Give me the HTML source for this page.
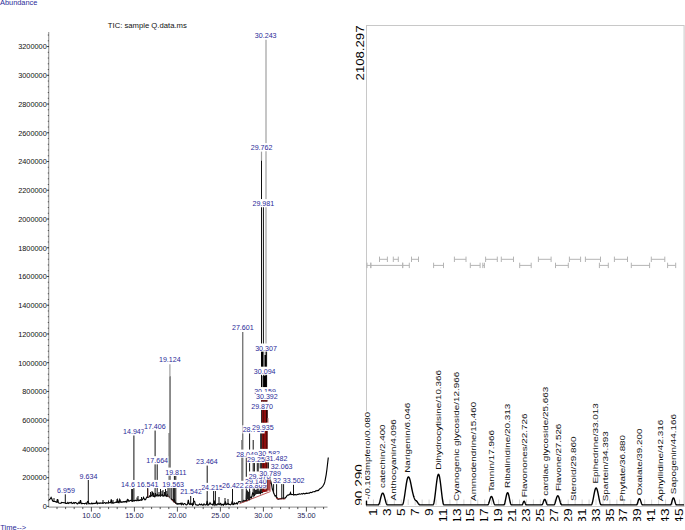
<!DOCTYPE html>
<html><head><meta charset="utf-8"><style>
html,body{margin:0;padding:0;background:#fff;}
svg{display:block;font-family:"Liberation Sans",sans-serif;}
</style></head><body>
<svg width="685" height="530" viewBox="0 0 685 530">
<rect width="685" height="530" fill="#fff"/>
<text x="0" y="5.0" font-size="7.4" fill="#2a2a98">Abundance</text>
<text x="107.8" y="28.0" font-size="7.7" fill="#111">TIC: sample Q.data.ms</text>
<text x="0.3" y="529.8" font-size="7.5" fill="#2a2a98">Time--&gt;</text>
<line x1="48.75" y1="32" x2="48.75" y2="507.3" stroke="#8a8a8a" stroke-width="1"/>
<text x="46.8" y="509.20" font-size="7.35" fill="#111" text-anchor="end">0</text>
<text x="46.8" y="480.46" font-size="7.35" fill="#111" text-anchor="end">200000</text>
<text x="46.8" y="451.72" font-size="7.35" fill="#111" text-anchor="end">400000</text>
<text x="46.8" y="422.98" font-size="7.35" fill="#111" text-anchor="end">600000</text>
<text x="46.8" y="394.24" font-size="7.35" fill="#111" text-anchor="end">800000</text>
<text x="46.8" y="365.50" font-size="7.35" fill="#111" text-anchor="end">1000000</text>
<text x="46.8" y="336.76" font-size="7.35" fill="#111" text-anchor="end">1200000</text>
<text x="46.8" y="308.02" font-size="7.35" fill="#111" text-anchor="end">1400000</text>
<text x="46.8" y="279.28" font-size="7.35" fill="#111" text-anchor="end">1600000</text>
<text x="46.8" y="250.54" font-size="7.35" fill="#111" text-anchor="end">1800000</text>
<text x="46.8" y="221.80" font-size="7.35" fill="#111" text-anchor="end">2000000</text>
<text x="46.8" y="193.06" font-size="7.35" fill="#111" text-anchor="end">2200000</text>
<text x="46.8" y="164.32" font-size="7.35" fill="#111" text-anchor="end">2400000</text>
<text x="46.8" y="135.58" font-size="7.35" fill="#111" text-anchor="end">2600000</text>
<text x="46.8" y="106.84" font-size="7.35" fill="#111" text-anchor="end">2800000</text>
<text x="46.8" y="78.10" font-size="7.35" fill="#111" text-anchor="end">3000000</text>
<text x="46.8" y="49.36" font-size="7.35" fill="#111" text-anchor="end">3200000</text>
<path d="M46.8 506.40h2 M46.8 477.66h2 M46.8 448.92h2 M46.8 420.18h2 M46.8 391.44h2 M46.8 362.70h2 M46.8 333.96h2 M46.8 305.22h2 M46.8 276.48h2 M46.8 247.74h2 M46.8 219.00h2 M46.8 190.26h2 M46.8 161.52h2 M46.8 132.78h2 M46.8 104.04h2 M46.8 75.30h2 M46.8 46.56h2 M47.8 506.40h1 M47.8 500.65h1 M47.8 494.90h1 M47.8 489.16h1 M47.8 483.41h1 M47.8 477.66h1 M47.8 471.91h1 M47.8 466.16h1 M47.8 460.42h1 M47.8 454.67h1 M47.8 448.92h1 M47.8 443.17h1 M47.8 437.42h1 M47.8 431.68h1 M47.8 425.93h1 M47.8 420.18h1 M47.8 414.43h1 M47.8 408.68h1 M47.8 402.94h1 M47.8 397.19h1 M47.8 391.44h1 M47.8 385.69h1 M47.8 379.94h1 M47.8 374.20h1 M47.8 368.45h1 M47.8 362.70h1 M47.8 356.95h1 M47.8 351.20h1 M47.8 345.46h1 M47.8 339.71h1 M47.8 333.96h1 M47.8 328.21h1 M47.8 322.46h1 M47.8 316.72h1 M47.8 310.97h1 M47.8 305.22h1 M47.8 299.47h1 M47.8 293.72h1 M47.8 287.98h1 M47.8 282.23h1 M47.8 276.48h1 M47.8 270.73h1 M47.8 264.98h1 M47.8 259.24h1 M47.8 253.49h1 M47.8 247.74h1 M47.8 241.99h1 M47.8 236.24h1 M47.8 230.50h1 M47.8 224.75h1 M47.8 219.00h1 M47.8 213.25h1 M47.8 207.50h1 M47.8 201.76h1 M47.8 196.01h1 M47.8 190.26h1 M47.8 184.51h1 M47.8 178.76h1 M47.8 173.02h1 M47.8 167.27h1 M47.8 161.52h1 M47.8 155.77h1 M47.8 150.02h1 M47.8 144.28h1 M47.8 138.53h1 M47.8 132.78h1 M47.8 127.03h1 M47.8 121.28h1 M47.8 115.54h1 M47.8 109.79h1 M47.8 104.04h1 M47.8 98.29h1 M47.8 92.54h1 M47.8 86.80h1 M47.8 81.05h1 M47.8 75.30h1 M47.8 69.55h1 M47.8 63.80h1 M47.8 58.06h1 M47.8 52.31h1 M47.8 46.56h1 M47.8 40.81h1 M47.8 35.06h1" stroke="#222" stroke-width="0.8" fill="none"/>
<line x1="48.75" y1="507.1" x2="327.5" y2="507.1" stroke="#8a8a8a" stroke-width="1"/>
<text x="91.40" y="518.4" font-size="7.3" fill="#26265a" text-anchor="middle">10.00</text>
<text x="134.40" y="518.4" font-size="7.3" fill="#26265a" text-anchor="middle">15.00</text>
<text x="177.40" y="518.4" font-size="7.3" fill="#26265a" text-anchor="middle">20.00</text>
<text x="220.40" y="518.4" font-size="7.3" fill="#26265a" text-anchor="middle">25.00</text>
<text x="263.40" y="518.4" font-size="7.3" fill="#26265a" text-anchor="middle">30.00</text>
<text x="306.40" y="518.4" font-size="7.3" fill="#26265a" text-anchor="middle">35.00</text>
<path d="M57.00 507.1v2 M65.60 507.1v2 M74.20 507.1v2 M82.80 507.1v2 M91.40 507.1v4.5 M100.00 507.1v2 M108.60 507.1v2 M117.20 507.1v2 M125.80 507.1v2 M134.40 507.1v4.5 M143.00 507.1v2 M151.60 507.1v2 M160.20 507.1v2 M168.80 507.1v2 M177.40 507.1v4.5 M186.00 507.1v2 M194.60 507.1v2 M203.20 507.1v2 M211.80 507.1v2 M220.40 507.1v4.5 M229.00 507.1v2 M237.60 507.1v2 M246.20 507.1v2 M254.80 507.1v2 M263.40 507.1v4.5 M272.00 507.1v2 M280.60 507.1v2 M289.20 507.1v2 M297.80 507.1v2 M306.40 507.1v4.5 M315.00 507.1v2 M323.60 507.1v2" stroke="#222" stroke-width="0.8" fill="none"/>
<polyline points="49.0,500.0 49.7,499.3 50.4,498.7 51.1,497.4 51.8,498.7 52.5,500.6 53.2,501.3 53.9,501.3 54.6,501.5 55.3,501.6 56.0,502.0 56.7,502.3 57.4,499.2 58.1,502.3 58.8,503.0 59.5,503.2 60.2,503.2 60.9,503.3 61.6,502.3 62.3,502.5 63.0,502.7 63.7,502.6 64.4,502.7 65.1,502.9 65.8,503.3 66.5,503.3 67.2,503.4 67.9,502.4 68.6,503.4 69.3,502.9 70.0,502.5 70.7,502.9 71.4,502.3 72.1,503.5 72.8,503.3 73.5,502.6 74.2,503.3 74.9,502.5 75.6,502.5 76.3,502.9 77.0,503.7 77.7,503.8 78.4,502.7 79.1,502.7 79.8,503.2 80.5,500.2 81.2,503.1 81.9,503.8 82.6,503.3 83.3,503.5 84.0,503.5 84.7,503.9 85.4,503.3 86.1,503.1 86.8,504.0 87.5,501.7 88.2,501.3 88.9,503.6 89.6,503.6 90.3,503.7 91.0,503.8 91.7,503.0 92.4,503.8 93.1,503.3 93.8,503.7 94.5,503.4 95.2,503.4 95.9,503.3 96.6,501.7 97.3,503.8 98.0,503.1 98.7,503.1 99.4,503.3 100.1,502.9 100.8,503.1 101.5,503.2 102.2,502.8 102.9,503.4 103.6,503.1 104.3,502.6 105.0,502.7 105.7,503.4 106.4,502.7 107.1,503.1 107.8,502.7 108.5,502.6 109.2,502.6 109.9,502.7 110.6,502.7 111.3,499.4 112.0,503.1 112.7,502.5 113.4,503.1 114.1,502.8 114.8,502.7 115.5,502.2 116.2,502.1 116.9,502.4 117.6,499.9 118.3,502.5 119.0,502.7 119.7,499.8 120.4,501.7 121.1,502.3 121.8,501.9 122.5,502.1 123.2,501.6 123.9,501.8 124.6,501.6 125.3,501.8 126.0,501.3 126.7,502.1 127.4,499.6 128.1,500.2 128.8,501.0 129.5,501.1 130.2,500.3 130.9,500.5 131.6,500.3 132.3,501.2 133.0,500.7 133.7,500.5 134.4,500.8 135.1,500.4 135.8,500.4 136.5,500.6 137.2,500.3 137.9,500.0 138.6,500.5 139.3,500.2 140.0,500.4 140.7,499.8 141.4,500.2 142.1,500.0 142.8,499.0 143.5,497.4 144.2,499.0 144.9,499.8 145.6,499.5 146.3,498.0 147.0,497.0 147.7,497.3 148.4,497.2 149.1,497.0 149.8,495.8 150.5,495.5 151.2,495.5 151.9,495.5 152.6,492.0 153.3,495.4 154.0,496.3 154.7,496.8 155.4,493.2 156.1,495.9 156.8,495.1 157.5,494.6 158.2,495.8 158.9,495.2 159.6,495.1 160.3,496.0 161.0,495.2 161.7,495.1 162.4,494.6 163.1,496.1 163.8,495.7 164.5,495.6 165.2,495.7 165.9,495.4 166.6,496.2 167.3,494.9 168.0,496.4 168.7,496.3 169.4,496.5 170.1,497.3 170.8,498.2 171.5,499.5 172.2,499.5 172.9,500.3 173.6,501.3 174.3,498.8 175.0,502.1 175.7,502.7 176.4,503.7 177.1,504.2 177.8,503.5 178.5,504.0 179.2,503.6 179.9,503.9 180.6,503.4 181.3,504.5 182.0,503.2 182.7,504.2 183.4,504.7 184.1,503.5 184.8,503.5 185.5,504.4 186.2,504.8 186.9,504.7 187.6,504.0 188.3,499.9 189.0,503.8 189.7,504.4 190.4,503.4 191.1,504.2 191.8,503.8 192.5,505.2 193.2,502.6 193.9,501.1 194.6,501.4 195.3,504.3 196.0,505.0 196.7,504.9 197.4,505.1 198.1,505.1 198.8,505.0 199.5,504.0 200.2,504.4 200.9,505.0 201.6,504.1 202.3,504.9 203.0,505.4 203.7,504.0 204.4,504.0 205.1,505.0 205.8,504.7 206.5,504.5 207.2,500.9 207.9,505.1 208.6,505.0 209.3,504.2 210.0,502.7 210.7,504.1 211.4,504.3 212.1,504.4 212.8,505.0 213.5,503.3 214.2,500.5 214.9,504.9 215.6,503.9 216.3,504.9 217.0,504.9 217.7,503.8 218.4,503.9 219.1,504.5 219.8,504.0 220.5,503.5 221.2,505.1 221.9,504.2 222.6,504.5 223.3,505.2 224.0,504.0 224.7,504.3 225.4,501.4 226.1,504.6 226.8,504.3 227.5,503.7 228.2,503.4 228.9,504.5 229.6,504.3 230.3,504.9 231.0,504.6 231.7,503.2 232.4,500.8 233.1,504.6 233.8,504.4 234.5,503.0 235.2,503.8 235.9,503.9 236.6,503.0 237.3,503.9 238.0,502.7 238.7,501.5 239.4,501.6 240.1,501.6 240.8,502.3 241.5,501.6 242.2,501.2 242.9,501.8 243.6,500.5 244.3,501.3 245.0,500.5 245.7,500.7 246.4,499.5 247.1,500.8 247.8,500.1 248.5,499.5 249.2,499.6 249.9,496.8 250.6,497.5 251.3,498.0 252.0,495.7 252.7,492.9 253.4,493.4 254.1,495.2 254.8,494.9 255.5,493.8 256.2,493.6 256.9,493.3 257.6,492.8 258.3,492.6 259.0,493.1 259.7,492.0 260.4,493.4 261.1,490.2 261.8,490.5 262.5,492.2 263.2,490.9 263.9,491.0 264.6,491.3 265.3,489.3 266.0,489.9 266.7,487.8 267.4,485.8 268.1,486.2 268.8,485.5 269.5,484.1 270.2,483.0 270.9,481.9 271.6,484.7 272.3,489.0 273.0,490.9 273.7,493.0 274.4,494.6 275.1,496.0 275.8,495.7 276.5,497.6 277.2,497.8 277.9,499.1 278.6,499.2 279.3,498.8 280.0,498.9 280.7,498.6 281.4,498.6 282.1,498.3 282.8,498.2 283.5,498.6 284.2,498.1 284.9,498.5 285.6,497.2 286.3,497.0 287.0,495.6 287.7,495.1 288.4,495.1 289.1,494.6 289.8,494.5 290.5,492.6 291.2,494.6 291.9,494.5 292.6,494.5 293.3,494.8 294.0,494.9 294.7,494.6 295.4,494.6 296.1,494.8 296.8,494.7 297.5,494.4 298.2,494.5 298.9,494.1 299.6,493.8 300.3,494.2 301.0,494.0 301.7,493.6 302.4,494.1 303.1,493.6 303.8,493.3 304.5,493.8 305.2,493.7 305.9,493.4 306.6,493.2 307.3,493.4 308.0,493.3 308.7,493.1 309.4,493.2 310.1,492.5 310.8,492.3 311.5,492.6 312.2,492.3 312.9,491.7 313.6,491.7 314.3,491.5 315.0,491.6 315.7,490.8 316.4,490.9 317.1,490.4 317.8,490.6 318.5,490.4 319.2,489.4 319.9,488.8 320.6,488.5 321.3,487.8 322.0,487.2 322.7,486.4 323.4,485.3 324.1,484.1 324.8,481.9 325.5,478.3 326.2,474.6 326.9,469.5 327.6,463.5 328.3,457.5" fill="none" stroke="#000" stroke-width="1.15"/>
<polyline points="239.4,503.7 270.5,491.5" stroke="#b03030" stroke-width="0.8" fill="none"/>
<polyline points="167,495 175.8,503.8" stroke="#b03030" stroke-width="0.8" fill="none"/>
<line x1="147.8" y1="488.7" x2="147.8" y2="497.5" stroke="#b03030" stroke-width="0.9"/>
<polyline points="276,498.6 285,499" stroke="#b03030" stroke-width="0.8" fill="none"/>
<line x1="65.3" y1="494.3" x2="65.3" y2="503.5" stroke="#111" stroke-width="1"/>
<line x1="88.3" y1="480" x2="88.3" y2="504.2" stroke="#111" stroke-width="1"/>
<line x1="131.7" y1="489" x2="131.7" y2="501.5" stroke="#111" stroke-width="1"/>
<line x1="132.6" y1="489" x2="132.6" y2="501.5" stroke="#111" stroke-width="1"/>
<line x1="133.9" y1="435.2" x2="133.9" y2="501.4" stroke="#111" stroke-width="1"/>
<line x1="128" y1="499" x2="128" y2="502.1" stroke="#111" stroke-width="1"/>
<line x1="120" y1="499.5" x2="120" y2="502.8" stroke="#111" stroke-width="1"/>
<line x1="103" y1="500" x2="103" y2="503.9" stroke="#111" stroke-width="1"/>
<line x1="54" y1="498" x2="54" y2="501.8" stroke="#111" stroke-width="1"/>
<line x1="117" y1="499" x2="117" y2="503.0" stroke="#111" stroke-width="1"/>
<line x1="113" y1="500" x2="113" y2="503.3" stroke="#111" stroke-width="1"/>
<line x1="108.5" y1="500.5" x2="108.5" y2="503.6" stroke="#111" stroke-width="1"/>
<line x1="137" y1="497.5" x2="137" y2="501.2" stroke="#111" stroke-width="1"/>
<line x1="79" y1="501.5" x2="79" y2="503.9" stroke="#111" stroke-width="1"/>
<line x1="58" y1="499.5" x2="58" y2="503.0" stroke="#111" stroke-width="1"/>
<line x1="147.7" y1="488" x2="147.7" y2="497.8" stroke="#111" stroke-width="1"/>
<line x1="155.1" y1="430.4" x2="155.1" y2="496.7" stroke="#111" stroke-width="1"/>
<line x1="157.2" y1="463.5" x2="157.2" y2="496.6" stroke="#111" stroke-width="1"/>
<line x1="150.5" y1="492" x2="150.5" y2="497.2" stroke="#111" stroke-width="1"/>
<line x1="152" y1="491" x2="152" y2="497.0" stroke="#111" stroke-width="1"/>
<line x1="153.5" y1="493" x2="153.5" y2="496.9" stroke="#111" stroke-width="1"/>
<line x1="159" y1="492" x2="159" y2="496.4" stroke="#111" stroke-width="1"/>
<line x1="160.5" y1="489" x2="160.5" y2="496.3" stroke="#111" stroke-width="1"/>
<line x1="162" y1="491" x2="162" y2="496.2" stroke="#111" stroke-width="1"/>
<line x1="163" y1="490" x2="163" y2="496.1" stroke="#111" stroke-width="1"/>
<line x1="164.5" y1="492" x2="164.5" y2="496.1" stroke="#111" stroke-width="1"/>
<line x1="165.5" y1="489" x2="165.5" y2="496.2" stroke="#111" stroke-width="1"/>
<line x1="166.8" y1="491" x2="166.8" y2="496.4" stroke="#111" stroke-width="1"/>
<line x1="168" y1="488" x2="168" y2="496.5" stroke="#111" stroke-width="1"/>
<line x1="138" y1="496" x2="138" y2="501.1" stroke="#111" stroke-width="1"/>
<line x1="141.5" y1="497" x2="141.5" y2="500.6" stroke="#111" stroke-width="1"/>
<line x1="169.9" y1="364.2" x2="169.9" y2="376.3" stroke="#a0a0a0" stroke-width="1.2"/>
<line x1="169.9" y1="376.3" x2="169.9" y2="498.4" stroke="#505050" stroke-width="1"/>
<line x1="170.5" y1="376.3" x2="170.5" y2="499.0" stroke="#888" stroke-width="1"/>
<line x1="171.8" y1="487" x2="171.8" y2="500.3" stroke="#111" stroke-width="1"/>
<line x1="173.4" y1="487" x2="173.4" y2="501.7" stroke="#111" stroke-width="1"/>
<line x1="174.4" y1="476" x2="174.4" y2="502.6" stroke="#111" stroke-width="1"/>
<line x1="175.8" y1="476" x2="175.8" y2="503.8" stroke="#111" stroke-width="1"/>
<line x1="190.7" y1="496" x2="190.7" y2="505.1" stroke="#111" stroke-width="1"/>
<line x1="193.5" y1="498" x2="193.5" y2="505.2" stroke="#111" stroke-width="1"/>
<line x1="207.2" y1="465.5" x2="207.2" y2="505.4" stroke="#111" stroke-width="1"/>
<line x1="213.6" y1="490" x2="213.6" y2="505.3" stroke="#111" stroke-width="1"/>
<line x1="215.4" y1="490" x2="215.4" y2="505.3" stroke="#111" stroke-width="1"/>
<line x1="219" y1="497" x2="219" y2="505.2" stroke="#111" stroke-width="1"/>
<line x1="225" y1="498" x2="225" y2="505.1" stroke="#111" stroke-width="1"/>
<line x1="228" y1="499" x2="228" y2="505.0" stroke="#111" stroke-width="1"/>
<line x1="232.5" y1="488" x2="232.5" y2="504.7" stroke="#111" stroke-width="1"/>
<line x1="242.8" y1="332" x2="242.8" y2="502.2" stroke="#444" stroke-width="1"/>
<line x1="169.0" y1="433" x2="169.0" y2="497.5" stroke="#666" stroke-width="1"/>
<line x1="246.3" y1="457" x2="246.3" y2="501.2" stroke="#111" stroke-width="1"/>
<line x1="249.6" y1="433" x2="249.6" y2="500.2" stroke="#111" stroke-width="1"/>
<line x1="253.2" y1="440" x2="253.2" y2="497.3" stroke="#111" stroke-width="1"/>
<line x1="254.4" y1="462" x2="254.4" y2="496.3" stroke="#111" stroke-width="1"/>
<line x1="257.3" y1="462" x2="257.3" y2="494.0" stroke="#111" stroke-width="1"/>
<line x1="258.8" y1="462" x2="258.8" y2="493.7" stroke="#111" stroke-width="1"/>
<line x1="260.7" y1="430" x2="260.7" y2="493.3" stroke="#111" stroke-width="1"/>
<line x1="261.5" y1="151.5" x2="261.5" y2="160.6" stroke="#a0a0a0" stroke-width="1.2"/>
<line x1="261.5" y1="160.6" x2="261.5" y2="493.1" stroke="#111" stroke-width="1"/>
<line x1="263.4" y1="207" x2="263.4" y2="492.1" stroke="#111" stroke-width="1"/>
<line x1="265.0" y1="374" x2="265.0" y2="491.1" stroke="#111" stroke-width="1"/>
<line x1="266.0" y1="39.7" x2="266.0" y2="345" stroke="#a0a0a0" stroke-width="1.2"/>
<line x1="266.0" y1="345" x2="266.0" y2="490.5" stroke="#111" stroke-width="1"/>
<line x1="266.6" y1="351" x2="266.6" y2="489.5" stroke="#111" stroke-width="1"/>
<line x1="268.4" y1="456" x2="268.4" y2="486.4" stroke="#111" stroke-width="1"/>
<line x1="270.2" y1="476" x2="270.2" y2="483.4" stroke="#111" stroke-width="1"/>
<line x1="273.6" y1="484" x2="273.6" y2="493.1" stroke="#111" stroke-width="1"/>
<line x1="276.6" y1="484" x2="276.6" y2="498.1" stroke="#111" stroke-width="1"/>
<line x1="281.8" y1="484" x2="281.8" y2="499.2" stroke="#111" stroke-width="1"/>
<line x1="283.6" y1="484" x2="283.6" y2="499.1" stroke="#111" stroke-width="1"/>
<line x1="293.5" y1="484.8" x2="293.5" y2="495.3" stroke="#111" stroke-width="1"/>
<polygon points="262.0,492.3 262.0,410 267.6,410 267.6,491.5" fill="#8e0c0c"/>
<polygon points="263,489.5 263.5,484 266,484 266.5,480 269,478 270.6,481 270.6,491" fill="#b04848"/>
<rect x="261.2" y="410" width="0.9" height="82" fill="#333"/>
<rect x="263.1" y="410" width="0.7" height="80" fill="#4a0a0a"/>
<rect x="266.3" y="410" width="1.2" height="12" fill="#000"/>
<rect x="266.4" y="430" width="0.9" height="60" fill="#300606"/>
<rect x="267.6" y="418" width="1.0" height="10" fill="#d09090"/>
<rect x="261.2" y="351" width="1.8" height="21" fill="#000"/>
<rect x="263.3" y="351" width="1.0" height="21" fill="#888"/>
<rect x="264.5" y="355" width="1.5" height="17" fill="#000"/>
<rect x="261.3" y="376" width="1.1" height="16" fill="#000"/>
<rect x="263.4" y="376" width="3.2" height="16" fill="#000"/>
<rect x="261.0" y="400" width="6.5" height="1.8" fill="#6a1010"/>
<polygon points="245.6,499 246,491 247.2,490 248.5,492 250.2,491 250.3,499.5" fill="#222"/>
<polygon points="254.5,494 255,490 256.5,489.5 258,491 259.5,490 259.6,493.5" fill="#222"/>
<line x1="241.5" y1="440" x2="241.5" y2="503" stroke="#777" stroke-width="0.8"/>
<rect x="56.82" y="485.47" width="18.37" height="8.18" fill="#fff"/>
<text x="66" y="492.55" font-size="7.1" fill="#2a2a98" text-anchor="middle">6.959</text>
<rect x="79.32" y="471.67" width="18.37" height="8.18" fill="#fff"/>
<text x="88.5" y="478.75" font-size="7.1" fill="#2a2a98" text-anchor="middle">9.634</text>
<rect x="120.79" y="479.97" width="14.42" height="8.18" fill="#fff"/>
<text x="128" y="487.05" font-size="7.1" fill="#2a2a98" text-anchor="middle">14.6</text>
<rect x="122.74" y="427.17" width="22.31" height="8.18" fill="#fff"/>
<text x="133.9" y="434.25" font-size="7.1" fill="#2a2a98" text-anchor="middle">14.947</text>
<rect x="136.44" y="479.87" width="22.31" height="8.18" fill="#fff"/>
<text x="147.6" y="486.95" font-size="7.1" fill="#2a2a98" text-anchor="middle">16.541</text>
<rect x="143.64" y="422.07" width="22.31" height="8.18" fill="#fff"/>
<text x="154.8" y="429.15" font-size="7.1" fill="#2a2a98" text-anchor="middle">17.406</text>
<rect x="146.04" y="456.17" width="22.31" height="8.18" fill="#fff"/>
<text x="157.2" y="463.25" font-size="7.1" fill="#2a2a98" text-anchor="middle">17.664</text>
<rect x="158.64" y="355.07" width="22.31" height="8.18" fill="#fff"/>
<text x="169.8" y="362.15" font-size="7.1" fill="#2a2a98" text-anchor="middle">19.124</text>
<rect x="162.04" y="479.87" width="22.31" height="8.18" fill="#fff"/>
<text x="173.2" y="486.95" font-size="7.1" fill="#2a2a98" text-anchor="middle">19.563</text>
<rect x="164.91" y="467.57" width="21.79" height="8.18" fill="#fff"/>
<text x="175.8" y="474.65" font-size="7.1" fill="#2a2a98" text-anchor="middle">19.811</text>
<rect x="179.84" y="487.17" width="22.31" height="8.18" fill="#fff"/>
<text x="191" y="494.25" font-size="7.1" fill="#2a2a98" text-anchor="middle">21.542</text>
<rect x="195.74" y="456.97" width="22.31" height="8.18" fill="#fff"/>
<text x="206.9" y="464.05" font-size="7.1" fill="#2a2a98" text-anchor="middle">23.464</text>
<rect x="200.84" y="482.87" width="22.31" height="8.18" fill="#fff"/>
<text x="212" y="489.95" font-size="7.1" fill="#2a2a98" text-anchor="middle">24.215</text>
<rect x="221.74" y="480.77" width="22.31" height="8.18" fill="#fff"/>
<text x="232.9" y="487.85" font-size="7.1" fill="#2a2a98" text-anchor="middle">26.422</text>
<rect x="231.64" y="323.27" width="22.31" height="8.18" fill="#fff"/>
<text x="242.8" y="330.35" font-size="7.1" fill="#2a2a98" text-anchor="middle">27.601</text>
<rect x="235.84" y="449.57" width="22.31" height="8.18" fill="#fff"/>
<text x="247" y="456.65" font-size="7.1" fill="#2a2a98" text-anchor="middle">28.049</text>
<rect x="242.34" y="425.27" width="22.31" height="8.18" fill="#fff"/>
<text x="253.5" y="432.35" font-size="7.1" fill="#2a2a98" text-anchor="middle">28.766</text>
<rect x="244.44" y="480.47" width="22.31" height="8.18" fill="#fff"/>
<text x="255.6" y="487.55" font-size="7.1" fill="#2a2a98" text-anchor="middle">28.869</text>
<rect x="244.64" y="476.77" width="22.31" height="8.18" fill="#fff"/>
<text x="255.8" y="483.85" font-size="7.1" fill="#2a2a98" text-anchor="middle">29.140</text>
<rect x="246.82" y="454.87" width="18.37" height="8.18" fill="#fff"/>
<text x="256" y="461.95" font-size="7.1" fill="#2a2a98" text-anchor="middle">29.25</text>
<rect x="248.34" y="471.47" width="22.31" height="8.18" fill="#fff"/>
<text x="259.5" y="478.55" font-size="7.1" fill="#2a2a98" text-anchor="middle">29.370</text>
<rect x="250.44" y="143.07" width="22.31" height="8.18" fill="#fff"/>
<text x="261.6" y="150.15" font-size="7.1" fill="#2a2a98" text-anchor="middle">29.762</text>
<rect x="250.94" y="401.77" width="22.31" height="8.18" fill="#fff"/>
<text x="262.1" y="408.85" font-size="7.1" fill="#2a2a98" text-anchor="middle">29.870</text>
<rect x="251.64" y="422.77" width="22.31" height="8.18" fill="#fff"/>
<text x="262.8" y="429.85" font-size="7.1" fill="#2a2a98" text-anchor="middle">29.935</text>
<rect x="252.14" y="199.07" width="22.31" height="8.18" fill="#fff"/>
<text x="263.3" y="206.15" font-size="7.1" fill="#2a2a98" text-anchor="middle">29.981</text>
<rect x="253.54" y="366.67" width="22.31" height="8.18" fill="#fff"/>
<text x="264.7" y="373.75" font-size="7.1" fill="#2a2a98" text-anchor="middle">30.094</text>
<rect x="253.84" y="387.07" width="22.31" height="8.18" fill="#fff"/>
<text x="265" y="394.15" font-size="7.1" fill="#2a2a98" text-anchor="middle">30.159</text>
<rect x="254.54" y="30.87" width="22.31" height="8.18" fill="#fff"/>
<text x="265.7" y="37.95" font-size="7.1" fill="#2a2a98" text-anchor="middle">30.243</text>
<rect x="254.84" y="343.47" width="22.31" height="8.18" fill="#fff"/>
<text x="266" y="350.55" font-size="7.1" fill="#2a2a98" text-anchor="middle">30.307</text>
<rect x="255.74" y="391.87" width="22.31" height="8.18" fill="#fff"/>
<text x="266.9" y="398.95" font-size="7.1" fill="#2a2a98" text-anchor="middle">30.392</text>
<rect x="258.04" y="448.87" width="22.31" height="8.18" fill="#fff"/>
<text x="269.2" y="455.95" font-size="7.1" fill="#2a2a98" text-anchor="middle">30.582</text>
<rect x="258.94" y="468.47" width="22.31" height="8.18" fill="#fff"/>
<text x="270.1" y="475.55" font-size="7.1" fill="#2a2a98" text-anchor="middle">30.789</text>
<rect x="265.34" y="454.17" width="22.31" height="8.18" fill="#fff"/>
<text x="276.5" y="461.25" font-size="7.1" fill="#2a2a98" text-anchor="middle">31.482</text>
<rect x="270.54" y="461.67" width="22.31" height="8.18" fill="#fff"/>
<text x="281.7" y="468.75" font-size="7.1" fill="#2a2a98" text-anchor="middle">32.063</text>
<rect x="272.75" y="475.97" width="8.50" height="8.18" fill="#fff"/>
<text x="277" y="483.05" font-size="7.1" fill="#2a2a98" text-anchor="middle">32</text>
<rect x="282.54" y="475.97" width="22.31" height="8.18" fill="#fff"/>
<text x="293.7" y="483.05" font-size="7.1" fill="#2a2a98" text-anchor="middle">33.502</text>
<rect x="366.5" y="25.5" width="317.6" height="481" fill="none" stroke="#c8c8c8" stroke-width="1"/>
<path d="M379.5 259.3H387.4M379.5 256.6v5.4M387.4 256.6v5.4 M393.3 259.3H398.3M393.3 256.6v5.4M398.3 256.6v5.4 M411.5 259.3H418.5M411.5 256.6v5.4M418.5 256.6v5.4 M454.4 259.3H466M454.4 256.6v5.4M466 256.6v5.4 M485.6 259.3H497.3M485.6 256.6v5.4M497.3 256.6v5.4 M501.3 259.3H513.5M501.3 256.6v5.4M513.5 256.6v5.4 M538.4 259.3H551.1M538.4 256.6v5.4M551.1 256.6v5.4 M569.4 259.3H580.6M569.4 256.6v5.4M580.6 256.6v5.4 M585.4 259.3H600.5M585.4 256.6v5.4M600.5 256.6v5.4 M614.4 259.3H627.5M614.4 256.6v5.4M627.5 256.6v5.4 M651.3 259.3H664.8M651.3 256.6v5.4M664.8 256.6v5.4 M367 265.4H370.8M367 262.7v5.4M370.8 262.7v5.4 M370.8 265.4H402.7M370.8 262.7v5.4M402.7 262.7v5.4 M402.7 265.4H409.3M402.7 262.7v5.4M409.3 262.7v5.4 M433.6 265.4H443.5M433.6 262.7v5.4M443.5 262.7v5.4 M470.3 265.4H480.1M470.3 262.7v5.4M480.1 262.7v5.4 M482.8 265.4H484.4M482.8 262.7v5.4M484.4 262.7v5.4 M519.7 265.4H531.2M519.7 262.7v5.4M531.2 262.7v5.4 M555.5 265.4H568.3M555.5 262.7v5.4M568.3 262.7v5.4 M599.4 265.4H608.3M599.4 262.7v5.4M608.3 262.7v5.4 M631.3 265.4H649.6M631.3 262.7v5.4M649.6 262.7v5.4 M667.6 265.4H675.7M667.6 262.7v5.4M675.7 262.7v5.4" stroke="#b4b4b4" stroke-width="1" fill="none"/>
<rect x="363.90" y="411.50" width="7.4" height="88.40" fill="#fff"/>
<text transform="translate(370.00,499.40) scale(1,1.34) rotate(-90)" font-size="7.4" fill="#111" text-anchor="start" textLength="65.22" lengthAdjust="spacingAndGlyphs">-/0.163mpferol/0.080</text>
<rect x="379.10" y="424.00" width="7.4" height="64.50" fill="#fff"/>
<text transform="translate(385.20,488.00) scale(1,1.34) rotate(-90)" font-size="7.4" fill="#111" text-anchor="start" textLength="47.39" lengthAdjust="spacingAndGlyphs">catechin/2.400</text>
<rect x="389.95" y="418.80" width="7.4" height="82.10" fill="#fff"/>
<text transform="translate(396.05,500.40) scale(1,1.34) rotate(-90)" font-size="7.4" fill="#111" text-anchor="start" textLength="60.52" lengthAdjust="spacingAndGlyphs">Anthocyanin/4.096</text>
<rect x="403.65" y="402.20" width="7.4" height="71.10" fill="#fff"/>
<text transform="translate(409.75,472.80) scale(1,1.34) rotate(-90)" font-size="7.4" fill="#111" text-anchor="start" textLength="52.31" lengthAdjust="spacingAndGlyphs">Narigenin/6.046</text>
<rect x="434.60" y="369.40" width="7.4" height="100.90" fill="#fff"/>
<text transform="translate(440.70,469.80) scale(1,1.34) rotate(-90)" font-size="7.4" fill="#111" text-anchor="start" textLength="74.55" lengthAdjust="spacingAndGlyphs">Dihydrocytisine/10.366</text>
<rect x="452.60" y="371.30" width="7.4" height="130.10" fill="#fff"/>
<text transform="translate(458.70,500.90) scale(1,1.34) rotate(-90)" font-size="7.4" fill="#111" text-anchor="start" textLength="96.34" lengthAdjust="spacingAndGlyphs">Cyanogenic glycoside/12.966</text>
<rect x="469.90" y="401.30" width="7.4" height="100.10" fill="#fff"/>
<text transform="translate(476.00,500.90) scale(1,1.34) rotate(-90)" font-size="7.4" fill="#111" text-anchor="start" textLength="73.96" lengthAdjust="spacingAndGlyphs">Ammodendrine/15.460</text>
<rect x="487.60" y="429.60" width="7.4" height="63.00" fill="#fff"/>
<text transform="translate(493.70,492.10) scale(1,1.34) rotate(-90)" font-size="7.4" fill="#111" text-anchor="start" textLength="46.27" lengthAdjust="spacingAndGlyphs">Tannin/17.966</text>
<rect x="503.50" y="403.20" width="7.4" height="85.30" fill="#fff"/>
<text transform="translate(509.60,488.00) scale(1,1.34) rotate(-90)" font-size="7.4" fill="#111" text-anchor="start" textLength="62.91" lengthAdjust="spacingAndGlyphs">Ribalinidine/20.313</text>
<rect x="520.85" y="413.00" width="7.4" height="84.80" fill="#fff"/>
<text transform="translate(526.95,497.30) scale(1,1.34) rotate(-90)" font-size="7.4" fill="#111" text-anchor="start" textLength="62.54" lengthAdjust="spacingAndGlyphs">Flavonones/22.726</text>
<rect x="541.75" y="386.30" width="7.4" height="110.00" fill="#fff"/>
<text transform="translate(547.85,495.80) scale(1,1.34) rotate(-90)" font-size="7.4" fill="#111" text-anchor="start" textLength="81.34" lengthAdjust="spacingAndGlyphs">cardiac glycoside/25.663</text>
<rect x="554.40" y="423.20" width="7.4" height="68.40" fill="#fff"/>
<text transform="translate(560.50,491.10) scale(1,1.34) rotate(-90)" font-size="7.4" fill="#111" text-anchor="start" textLength="50.30" lengthAdjust="spacingAndGlyphs">Flavone/27.526</text>
<rect x="570.20" y="435.90" width="7.4" height="65.50" fill="#fff"/>
<text transform="translate(576.30,500.90) scale(1,1.34) rotate(-90)" font-size="7.4" fill="#111" text-anchor="start" textLength="48.13" lengthAdjust="spacingAndGlyphs">Steroid/29.860</text>
<rect x="592.25" y="402.70" width="7.4" height="81.40" fill="#fff"/>
<text transform="translate(598.35,483.60) scale(1,1.34) rotate(-90)" font-size="7.4" fill="#111" text-anchor="start" textLength="60.00" lengthAdjust="spacingAndGlyphs">Epihedrine/33.013</text>
<rect x="602.10" y="430.70" width="7.4" height="71.10" fill="#fff"/>
<text transform="translate(608.20,501.30) scale(1,1.34) rotate(-90)" font-size="7.4" fill="#111" text-anchor="start" textLength="52.31" lengthAdjust="spacingAndGlyphs">Spartein/34.393</text>
<rect x="619.05" y="434.40" width="7.4" height="67.40" fill="#fff"/>
<text transform="translate(625.15,501.30) scale(1,1.34) rotate(-90)" font-size="7.4" fill="#111" text-anchor="start" textLength="49.55" lengthAdjust="spacingAndGlyphs">Phytate/36.880</text>
<rect x="635.40" y="428.00" width="7.4" height="67.80" fill="#fff"/>
<text transform="translate(641.50,495.30) scale(1,1.34) rotate(-90)" font-size="7.4" fill="#111" text-anchor="start" textLength="49.85" lengthAdjust="spacingAndGlyphs">Oxalate/39.200</text>
<rect x="656.90" y="419.10" width="7.4" height="82.70" fill="#fff"/>
<text transform="translate(663.00,501.30) scale(1,1.34) rotate(-90)" font-size="7.4" fill="#111" text-anchor="start" textLength="60.97" lengthAdjust="spacingAndGlyphs">Aphyllidine/42.316</text>
<rect x="669.70" y="413.40" width="7.4" height="81.30" fill="#fff"/>
<text transform="translate(675.80,494.20) scale(1,1.34) rotate(-90)" font-size="7.4" fill="#111" text-anchor="start" textLength="59.93" lengthAdjust="spacingAndGlyphs">Sapogenin/44.166</text>
<path d="M373.45 505v-5.5 M380.41 505v-5.5 M387.37 505v-5.5 M394.32 505v-5.5 M401.27 505v-5.5 M408.23 505v-5.5 M415.19 505v-5.5 M422.14 505v-5.5 M429.10 505v-5.5 M436.05 505v-5.5 M443.00 505v-5.5 M449.96 505v-5.5 M456.92 505v-5.5 M463.87 505v-5.5 M470.82 505v-5.5 M477.78 505v-5.5 M484.74 505v-5.5 M491.69 505v-5.5 M498.64 505v-5.5 M505.60 505v-5.5 M512.56 505v-5.5 M519.51 505v-5.5 M526.47 505v-5.5 M533.42 505v-5.5 M540.38 505v-5.5 M547.33 505v-5.5 M554.28 505v-5.5 M561.24 505v-5.5 M568.19 505v-5.5 M575.15 505v-5.5 M582.11 505v-5.5 M589.06 505v-5.5 M596.01 505v-5.5 M602.97 505v-5.5 M609.92 505v-5.5 M616.88 505v-5.5 M623.84 505v-5.5 M630.79 505v-5.5 M637.75 505v-5.5 M644.70 505v-5.5 M651.65 505v-5.5 M658.61 505v-5.5 M665.57 505v-5.5 M672.52 505v-5.5 M679.48 505v-5.5" stroke="#d0d0d0" stroke-width="0.9" fill="none"/>
<polyline points="366.5,500.8 366.50,504.90 366.75,504.90 367.00,504.90 367.25,504.90 367.50,504.90 367.75,504.90 368.00,504.90 368.25,504.90 368.50,504.90 368.75,504.90 369.00,504.90 369.25,504.90 369.50,504.90 369.75,504.90 370.00,504.90 370.25,504.90 370.50,504.90 370.75,504.90 371.00,504.90 371.25,504.90 371.50,504.90 371.75,504.90 372.00,504.90 372.25,504.90 372.50,504.90 372.75,504.90 373.00,504.90 373.25,504.90 373.50,504.90 373.75,504.90 374.00,504.90 374.25,504.90 374.50,504.90 374.75,504.90 375.00,504.90 375.25,504.90 375.50,504.90 375.75,504.90 376.00,504.90 376.25,504.90 376.50,504.90 376.75,504.90 377.00,504.90 377.25,504.90 377.50,504.90 377.75,504.90 378.00,504.90 378.25,504.90 378.50,504.77 378.75,504.47 379.00,504.00 379.25,503.38 379.50,502.63 379.75,501.77 380.00,500.82 380.25,499.82 380.50,498.79 380.75,497.77 381.00,496.79 381.25,495.87 381.50,495.05 381.75,494.35 382.00,493.79 382.25,493.39 382.50,493.16 382.75,493.10 383.00,493.22 383.25,493.49 383.50,493.92 383.75,494.49 384.00,495.19 384.25,495.99 384.50,496.88 384.75,497.82 385.00,498.80 385.25,499.79 385.50,500.75 385.75,501.66 386.00,502.50 386.25,503.24 386.50,503.86 386.75,504.35 387.00,504.69 387.25,504.87 387.50,504.90 387.75,504.90 388.00,504.90 388.25,504.90 388.50,504.90 388.75,504.90 389.00,504.90 389.25,504.90 389.50,504.90 389.75,504.90 390.00,504.90 390.25,504.90 390.50,504.90 390.75,504.90 391.00,504.90 391.25,504.90 391.50,504.90 391.75,504.90 392.00,504.90 392.25,504.90 392.50,504.90 392.75,504.90 393.00,504.90 393.25,504.90 393.50,504.90 393.75,504.90 394.00,504.90 394.25,504.90 394.50,504.90 394.75,504.90 395.00,504.90 395.25,504.90 395.50,504.90 395.75,504.90 396.00,504.90 396.25,504.90 396.50,504.90 396.75,504.90 397.00,504.90 397.25,504.90 397.50,504.90 397.75,504.90 398.00,504.90 398.25,504.90 398.50,504.90 398.75,504.90 399.00,504.90 399.25,504.90 399.50,504.90 399.75,504.90 400.00,504.90 400.25,504.90 400.50,504.90 400.75,504.90 401.00,504.90 401.25,504.90 401.50,504.90 401.75,504.90 402.00,504.90 402.25,504.90 402.50,504.74 402.75,504.36 403.00,503.77 403.25,502.96 403.50,501.97 403.75,500.80 404.00,499.47 404.25,498.00 404.50,496.42 404.75,494.75 405.00,493.02 405.25,491.25 405.50,489.48 405.75,487.74 406.00,486.04 406.25,484.42 406.50,482.90 406.75,481.51 407.00,480.28 407.25,479.21 407.50,478.33 407.75,477.65 408.00,477.19 408.25,476.94 408.50,476.91 408.75,477.05 409.00,477.34 409.25,477.78 409.50,478.36 409.75,479.08 410.00,479.93 410.25,480.90 410.50,481.98 410.75,483.15 411.00,484.41 411.25,485.71 411.50,487.00 411.75,488.26 412.00,489.49 412.25,490.68 412.50,491.82 412.75,492.90 413.00,493.92 413.25,494.87 413.50,495.76 413.75,496.58 414.00,497.32 414.25,497.99 414.50,498.59 414.75,499.11 415.00,499.55 415.25,499.92 415.50,500.20 415.75,500.41 416.00,500.54 416.25,500.70 416.50,500.93 416.75,501.20 417.00,501.52 417.25,501.88 417.50,502.26 417.75,502.65 418.00,503.04 418.25,503.42 418.50,503.77 418.75,504.10 419.00,504.37 419.25,504.60 419.50,504.76 419.75,504.87 420.00,504.90 420.25,504.90 420.50,504.90 420.75,504.90 421.00,504.90 421.25,504.90 421.50,504.90 421.75,504.90 422.00,504.90 422.25,504.90 422.50,504.90 422.75,504.90 423.00,504.90 423.25,504.90 423.50,504.90 423.75,504.90 424.00,504.90 424.25,504.90 424.50,504.90 424.75,504.90 425.00,504.90 425.25,504.90 425.50,504.90 425.75,504.90 426.00,504.90 426.25,504.90 426.50,504.90 426.75,504.90 427.00,504.90 427.25,504.90 427.50,504.90 427.75,504.90 428.00,504.90 428.25,504.90 428.50,504.90 428.75,504.90 429.00,504.90 429.25,504.90 429.50,504.90 429.75,504.90 430.00,504.90 430.25,504.90 430.50,504.90 430.75,504.90 431.00,504.90 431.25,504.90 431.50,504.90 431.75,504.90 432.00,504.90 432.25,504.90 432.50,504.90 432.75,504.90 433.00,504.90 433.25,504.74 433.50,504.28 433.75,503.52 434.00,502.47 434.25,501.16 434.50,499.62 434.75,497.87 435.00,495.96 435.25,493.91 435.50,491.78 435.75,489.60 436.00,487.42 436.25,485.29 436.50,483.24 436.75,481.33 437.00,479.58 437.25,478.04 437.50,476.73 437.75,475.68 438.00,474.92 438.25,474.46 438.50,474.30 438.75,474.46 439.00,474.92 439.25,475.68 439.50,476.73 439.75,478.04 440.00,479.58 440.25,481.33 440.50,483.24 440.75,485.29 441.00,487.42 441.25,489.60 441.50,491.78 441.75,493.91 442.00,495.96 442.25,497.87 442.50,499.62 442.75,501.16 443.00,502.47 443.25,503.52 443.50,504.28 443.75,504.74 444.00,504.90 444.25,504.90 444.50,504.90 444.75,504.90 445.00,504.90 445.25,504.90 445.50,504.90 445.75,504.90 446.00,504.90 446.25,504.90 446.50,504.90 446.75,504.90 447.00,504.90 447.25,504.90 447.50,504.90 447.75,504.90 448.00,504.90 448.25,504.90 448.50,504.90 448.75,504.90 449.00,504.90 449.25,504.90 449.50,504.90 449.75,504.90 450.00,504.90 450.25,504.90 450.50,504.90 450.75,504.90 451.00,504.90 451.25,504.90 451.50,504.90 451.75,504.90 452.00,504.90 452.25,504.90 452.50,504.90 452.75,504.90 453.00,504.90 453.25,504.90 453.50,504.90 453.75,504.90 454.00,504.90 454.25,504.90 454.50,504.90 454.75,504.90 455.00,504.90 455.25,504.90 455.50,504.90 455.75,504.90 456.00,504.90 456.25,504.90 456.50,504.90 456.75,504.90 457.00,504.90 457.25,504.90 457.50,504.90 457.75,504.90 458.00,504.90 458.25,504.90 458.50,504.90 458.75,504.90 459.00,504.90 459.25,504.90 459.50,504.90 459.75,504.90 460.00,504.90 460.25,504.90 460.50,504.90 460.75,504.90 461.00,504.90 461.25,504.90 461.50,504.90 461.75,504.90 462.00,504.90 462.25,504.90 462.50,504.90 462.75,504.90 463.00,504.90 463.25,504.90 463.50,504.90 463.75,504.90 464.00,504.90 464.25,504.90 464.50,504.90 464.75,504.90 465.00,504.90 465.25,504.90 465.50,504.90 465.75,504.90 466.00,504.90 466.25,504.90 466.50,504.90 466.75,504.90 467.00,504.90 467.25,504.90 467.50,504.90 467.75,504.90 468.00,504.90 468.25,504.90 468.50,504.90 468.75,504.90 469.00,504.90 469.25,504.90 469.50,504.90 469.75,504.90 470.00,504.90 470.25,504.90 470.50,504.90 470.75,504.90 471.00,504.90 471.25,504.90 471.50,504.90 471.75,504.90 472.00,504.90 472.25,504.90 472.50,504.90 472.75,504.90 473.00,504.90 473.25,504.90 473.50,504.90 473.75,504.90 474.00,504.90 474.25,504.90 474.50,504.90 474.75,504.90 475.00,504.90 475.25,504.90 475.50,504.90 475.75,504.90 476.00,504.90 476.25,504.90 476.50,504.90 476.75,504.90 477.00,504.90 477.25,504.90 477.50,504.90 477.75,504.90 478.00,504.90 478.25,504.90 478.50,504.90 478.75,504.90 479.00,504.90 479.25,504.90 479.50,504.90 479.75,504.90 480.00,504.90 480.25,504.90 480.50,504.90 480.75,504.90 481.00,504.90 481.25,504.90 481.50,504.90 481.75,504.90 482.00,504.90 482.25,504.90 482.50,504.90 482.75,504.90 483.00,504.90 483.25,504.90 483.50,504.90 483.75,504.90 484.00,504.90 484.25,504.90 484.50,504.90 484.75,504.90 485.00,504.90 485.25,504.90 485.50,504.90 485.75,504.90 486.00,504.90 486.25,504.90 486.50,504.90 486.75,504.90 487.00,504.90 487.25,504.90 487.50,504.90 487.75,504.90 488.00,504.76 488.25,504.45 488.50,503.97 488.75,503.34 489.00,502.59 489.25,501.76 489.50,500.88 489.75,499.99 490.00,499.13 490.25,498.35 490.50,497.67 490.75,497.12 491.00,496.74 491.25,496.53 491.50,496.52 491.75,496.68 492.00,497.03 492.25,497.55 492.50,498.20 492.75,498.97 493.00,499.82 493.25,500.70 493.50,501.58 493.75,502.43 494.00,503.20 494.25,503.85 494.50,504.37 494.75,504.72 495.00,504.88 495.25,504.90 495.50,504.90 495.75,504.90 496.00,504.90 496.25,504.90 496.50,504.90 496.75,504.90 497.00,504.90 497.25,504.90 497.50,504.90 497.75,504.90 498.00,504.90 498.25,504.90 498.50,504.90 498.75,504.90 499.00,504.90 499.25,504.90 499.50,504.90 499.75,504.90 500.00,504.90 500.25,504.90 500.50,504.90 500.75,504.90 501.00,504.90 501.25,504.90 501.50,504.90 501.75,504.90 502.00,504.90 502.25,504.90 502.50,504.90 502.75,504.90 503.00,504.90 503.25,504.90 503.50,504.90 503.75,504.90 504.00,504.82 504.25,504.48 504.50,503.91 504.75,503.11 505.00,502.14 505.25,501.02 505.50,499.80 505.75,498.55 506.00,497.30 506.25,496.12 506.50,495.05 506.75,494.15 507.00,493.44 507.25,492.95 507.50,492.72 507.75,492.75 508.00,493.03 508.25,493.56 508.50,494.31 508.75,495.26 509.00,496.35 509.25,497.55 509.50,498.80 509.75,500.05 510.00,501.25 510.25,502.34 510.50,503.29 510.75,504.04 511.00,504.57 511.25,504.85 511.50,504.90 511.75,504.90 512.00,504.90 512.25,504.90 512.50,504.90 512.75,504.90 513.00,504.90 513.25,504.90 513.50,504.90 513.75,504.90 514.00,504.90 514.25,504.90 514.50,504.90 514.75,504.90 515.00,504.90 515.25,504.90 515.50,504.90 515.75,504.90 516.00,504.90 516.25,504.90 516.50,504.90 516.75,504.90 517.00,504.90 517.25,504.90 517.50,504.90 517.75,504.90 518.00,504.90 518.25,504.90 518.50,504.90 518.75,504.90 519.00,504.90 519.25,504.90 519.50,504.90 519.75,504.90 520.00,504.90 520.25,504.90 520.50,504.90 520.75,504.90 521.00,504.90 521.25,504.90 521.50,504.90 521.75,504.90 522.00,504.90 522.25,504.77 522.50,504.41 522.75,503.85 523.00,503.19 523.25,502.50 523.50,501.90 523.75,501.45 524.00,501.22 524.25,501.25 524.50,501.52 524.75,502.01 525.00,502.64 525.25,503.33 525.50,503.97 525.75,504.50 526.00,504.82 526.25,504.90 526.50,504.90 526.75,504.90 527.00,504.90 527.25,504.90 527.50,504.90 527.75,504.90 528.00,504.90 528.25,504.90 528.50,504.90 528.75,504.90 529.00,504.90 529.25,504.90 529.50,504.90 529.75,504.90 530.00,504.90 530.25,504.90 530.50,504.90 530.75,504.90 531.00,504.90 531.25,504.90 531.50,504.90 531.75,504.90 532.00,504.90 532.25,504.90 532.50,504.90 532.75,504.90 533.00,504.90 533.25,504.90 533.50,504.90 533.75,504.90 534.00,504.90 534.25,504.90 534.50,504.90 534.75,504.90 535.00,504.90 535.25,504.90 535.50,504.90 535.75,504.90 536.00,504.90 536.25,504.90 536.50,504.90 536.75,504.90 537.00,504.90 537.25,504.90 537.50,504.90 537.75,504.90 538.00,504.90 538.25,504.90 538.50,504.90 538.75,504.90 539.00,504.90 539.25,504.90 539.50,504.90 539.75,504.90 540.00,504.90 540.25,504.90 540.50,504.90 540.75,504.90 541.00,504.90 541.25,504.90 541.50,504.90 541.75,504.90 542.00,504.84 542.25,504.58 542.50,504.15 542.75,503.57 543.00,502.89 543.25,502.15 543.50,501.41 543.75,500.73 544.00,500.15 544.25,499.72 544.50,499.46 544.75,499.40 545.00,499.54 545.25,499.87 545.50,500.37 545.75,501.00 546.00,501.71 546.25,502.45 546.50,503.17 546.75,503.81 547.00,504.34 547.25,504.70 547.50,504.88 547.75,504.90 548.00,504.90 548.25,504.90 548.50,504.90 548.75,504.90 549.00,504.90 549.25,504.90 549.50,504.90 549.75,504.90 550.00,504.90 550.25,504.90 550.50,504.90 550.75,504.90 551.00,504.90 551.25,504.90 551.50,504.90 551.75,504.90 552.00,504.90 552.25,504.90 552.50,504.90 552.75,504.90 553.00,504.90 553.25,504.90 553.50,504.90 553.75,504.90 554.00,504.89 554.25,504.72 554.50,504.38 554.75,503.87 555.00,503.23 555.25,502.46 555.50,501.62 555.75,500.72 556.00,499.80 556.25,498.91 556.50,498.07 556.75,497.33 557.00,496.71 557.25,496.24 557.50,495.93 557.75,495.80 558.00,495.86 558.25,496.10 558.50,496.50 558.75,497.07 559.00,497.77 559.25,498.57 559.50,499.44 559.75,500.35 560.00,501.26 560.25,502.13 560.50,502.93 560.75,503.63 561.00,504.20 561.25,504.60 561.50,504.84 561.75,504.90 562.00,504.90 562.25,504.90 562.50,504.90 562.75,504.90 563.00,504.90 563.25,504.90 563.50,504.90 563.75,504.90 564.00,504.90 564.25,504.90 564.50,504.90 564.75,504.90 565.00,504.90 565.25,504.90 565.50,504.90 565.75,504.90 566.00,504.90 566.25,504.90 566.50,504.90 566.75,504.90 567.00,504.90 567.25,504.90 567.50,504.90 567.75,504.90 568.00,504.90 568.25,504.90 568.50,504.90 568.75,504.90 569.00,504.90 569.25,504.90 569.50,504.90 569.75,504.90 570.00,504.90 570.25,504.90 570.50,504.90 570.75,504.90 571.00,504.90 571.25,504.90 571.50,504.90 571.75,504.90 572.00,504.90 572.25,504.90 572.50,504.90 572.75,504.90 573.00,504.90 573.25,504.90 573.50,504.90 573.75,504.90 574.00,504.90 574.25,504.90 574.50,504.90 574.75,504.90 575.00,504.90 575.25,504.90 575.50,504.90 575.75,504.90 576.00,504.90 576.25,504.90 576.50,504.90 576.75,504.90 577.00,504.90 577.25,504.90 577.50,504.90 577.75,504.90 578.00,504.90 578.25,504.90 578.50,504.90 578.75,504.90 579.00,504.90 579.25,504.90 579.50,504.90 579.75,504.90 580.00,504.90 580.25,504.90 580.50,504.90 580.75,504.90 581.00,504.90 581.25,504.90 581.50,504.90 581.75,504.90 582.00,504.90 582.25,504.90 582.50,504.90 582.75,504.90 583.00,504.90 583.25,504.90 583.50,504.90 583.75,504.90 584.00,504.90 584.25,504.90 584.50,504.90 584.75,504.90 585.00,504.90 585.25,504.90 585.50,504.90 585.75,504.90 586.00,504.90 586.25,504.90 586.50,504.90 586.75,504.90 587.00,504.90 587.25,504.90 587.50,504.90 587.75,504.90 588.00,504.90 588.25,504.90 588.50,504.90 588.75,504.90 589.00,504.90 589.25,504.90 589.50,504.90 589.75,504.90 590.00,504.90 590.25,504.90 590.50,504.90 590.75,504.90 591.00,504.90 591.25,504.90 591.50,504.74 591.75,504.38 592.00,503.81 592.25,503.06 592.50,502.13 592.75,501.06 593.00,499.87 593.25,498.59 593.50,497.26 593.75,495.91 594.00,494.57 594.25,493.28 594.50,492.07 594.75,490.97 595.00,490.02 595.25,489.22 595.50,488.62 595.75,488.21 596.00,488.02 596.25,488.04 596.50,488.26 596.75,488.67 597.00,489.27 597.25,490.03 597.50,490.95 597.75,492.00 598.00,493.16 598.25,494.39 598.50,495.67 598.75,496.97 599.00,498.26 599.25,499.50 599.50,500.67 599.75,501.75 600.00,502.69 600.25,503.49 600.50,504.13 600.75,504.58 601.00,504.84 601.25,504.90 601.50,504.90 601.75,504.90 602.00,504.90 602.25,504.90 602.50,504.90 602.75,504.90 603.00,504.90 603.25,504.90 603.50,504.90 603.75,504.90 604.00,504.90 604.25,504.90 604.50,504.90 604.75,504.90 605.00,504.90 605.25,504.90 605.50,504.90 605.75,504.90 606.00,504.90 606.25,504.90 606.50,504.90 606.75,504.90 607.00,504.90 607.25,504.90 607.50,504.90 607.75,504.90 608.00,504.90 608.25,504.90 608.50,504.90 608.75,504.90 609.00,504.90 609.25,504.90 609.50,504.90 609.75,504.90 610.00,504.90 610.25,504.90 610.50,504.90 610.75,504.90 611.00,504.90 611.25,504.90 611.50,504.90 611.75,504.90 612.00,504.90 612.25,504.90 612.50,504.90 612.75,504.90 613.00,504.90 613.25,504.90 613.50,504.90 613.75,504.90 614.00,504.90 614.25,504.90 614.50,504.90 614.75,504.90 615.00,504.90 615.25,504.90 615.50,504.90 615.75,504.90 616.00,504.90 616.25,504.90 616.50,504.90 616.75,504.90 617.00,504.90 617.25,504.90 617.50,504.90 617.75,504.90 618.00,504.90 618.25,504.90 618.50,504.90 618.75,504.90 619.00,504.90 619.25,504.90 619.50,504.90 619.75,504.90 620.00,504.90 620.25,504.90 620.50,504.90 620.75,504.90 621.00,504.90 621.25,504.90 621.50,504.90 621.75,504.90 622.00,504.90 622.25,504.90 622.50,504.90 622.75,504.90 623.00,504.90 623.25,504.90 623.50,504.90 623.75,504.90 624.00,504.90 624.25,504.90 624.50,504.90 624.75,504.90 625.00,504.90 625.25,504.90 625.50,504.90 625.75,504.90 626.00,504.90 626.25,504.90 626.50,504.90 626.75,504.90 627.00,504.90 627.25,504.90 627.50,504.90 627.75,504.90 628.00,504.90 628.25,504.90 628.50,504.90 628.75,504.90 629.00,504.90 629.25,504.90 629.50,504.90 629.75,504.90 630.00,504.90 630.25,504.90 630.50,504.90 630.75,504.90 631.00,504.90 631.25,504.90 631.50,504.90 631.75,504.90 632.00,504.90 632.25,504.90 632.50,504.90 632.75,504.90 633.00,504.90 633.25,504.90 633.50,504.90 633.75,504.90 634.00,504.90 634.25,504.90 634.50,504.90 634.75,504.90 635.00,504.90 635.25,504.90 635.50,504.90 635.75,504.90 636.00,504.90 636.25,504.90 636.50,504.90 636.75,504.79 637.00,504.45 637.25,503.92 637.50,503.23 637.75,502.43 638.00,501.58 638.25,500.74 638.50,499.98 638.75,499.35 639.00,498.89 639.25,498.64 639.50,498.62 639.75,498.80 640.00,499.16 640.25,499.70 640.50,500.36 640.75,501.12 641.00,501.91 641.25,502.69 641.50,503.42 641.75,504.03 642.00,504.50 642.25,504.80 642.50,504.90 642.75,504.90 643.00,504.90 643.25,504.90 643.50,504.90 643.75,504.90 644.00,504.90 644.25,504.90 644.50,504.90 644.75,504.90 645.00,504.90 645.25,504.90 645.50,504.90 645.75,504.90 646.00,504.90 646.25,504.90 646.50,504.90 646.75,504.90 647.00,504.90 647.25,504.90 647.50,504.90 647.75,504.90 648.00,504.90 648.25,504.90 648.50,504.90 648.75,504.90 649.00,504.90 649.25,504.90 649.50,504.90 649.75,504.90 650.00,504.90 650.25,504.90 650.50,504.90 650.75,504.90 651.00,504.90 651.25,504.90 651.50,504.90 651.75,504.90 652.00,504.90 652.25,504.90 652.50,504.90 652.75,504.90 653.00,504.90 653.25,504.90 653.50,504.90 653.75,504.90 654.00,504.90 654.25,504.90 654.50,504.90 654.75,504.90 655.00,504.90 655.25,504.90 655.50,504.90 655.75,504.90 656.00,504.90 656.25,504.90 656.50,504.90 656.75,504.90 657.00,504.90 657.25,504.90 657.50,504.90 657.75,504.90 658.00,504.90 658.25,504.90 658.50,504.90 658.75,504.90 659.00,504.90 659.25,504.90 659.50,504.90 659.75,504.90 660.00,504.90 660.25,504.90 660.50,504.90 660.75,504.90 661.00,504.90 661.25,504.90 661.50,504.90 661.75,504.90 662.00,504.90 662.25,504.90 662.50,504.90 662.75,504.90 663.00,504.90 663.25,504.90 663.50,504.90 663.75,504.90 664.00,504.90 664.25,504.90 664.50,504.90 664.75,504.90 665.00,504.90 665.25,504.90 665.50,504.90 665.75,504.90 666.00,504.90 666.25,504.90 666.50,504.90 666.75,504.90 667.00,504.90 667.25,504.90 667.50,504.90 667.75,504.90 668.00,504.90 668.25,504.90 668.50,504.90 668.75,504.90 669.00,504.90 669.25,504.90 669.50,504.90 669.75,504.90 670.00,504.90 670.25,504.90 670.50,504.90 670.75,504.77 671.00,504.40 671.25,503.81 671.50,503.04 671.75,502.15 672.00,501.21 672.25,500.28 672.50,499.44 672.75,498.73 673.00,498.22 673.25,497.95 673.50,497.92 673.75,498.12 674.00,498.53 674.25,499.12 674.50,499.86 674.75,500.70 675.00,501.58 675.25,502.45 675.50,503.25 675.75,503.94 676.00,504.46 676.25,504.79 676.50,504.90 676.75,504.90 677.00,504.90 677.25,504.90 677.50,504.90 677.75,504.90 678.00,504.90 678.25,504.90 678.50,504.90 678.75,504.90 679.00,504.90 679.25,504.90 679.50,504.90 679.75,504.90 680.00,504.90 680.25,504.90 680.50,504.90 680.75,504.90 681.00,504.90 681.25,504.90 681.50,504.90 681.75,504.90 682.00,504.90 682.25,504.90 682.50,504.90 682.75,504.90 683.00,504.90 683.25,504.90 683.50,504.90 683.75,504.90 684.00,504.90" fill="none" stroke="#000" stroke-width="1.4" stroke-linejoin="round"/>
<text transform="translate(377.06,508.50) scale(1,1.34) rotate(-90)" font-size="10.2" fill="#000" text-anchor="end">1</text>
<text transform="translate(390.97,508.50) scale(1,1.34) rotate(-90)" font-size="10.2" fill="#000" text-anchor="end">3</text>
<text transform="translate(404.88,508.50) scale(1,1.34) rotate(-90)" font-size="10.2" fill="#000" text-anchor="end">5</text>
<text transform="translate(418.79,508.50) scale(1,1.34) rotate(-90)" font-size="10.2" fill="#000" text-anchor="end">7</text>
<text transform="translate(432.70,508.50) scale(1,1.34) rotate(-90)" font-size="10.2" fill="#000" text-anchor="end">9</text>
<text transform="translate(446.61,508.50) scale(1,1.34) rotate(-90)" font-size="10.2" fill="#000" text-anchor="end">11</text>
<text transform="translate(460.52,508.50) scale(1,1.34) rotate(-90)" font-size="10.2" fill="#000" text-anchor="end">13</text>
<text transform="translate(474.43,508.50) scale(1,1.34) rotate(-90)" font-size="10.2" fill="#000" text-anchor="end">15</text>
<text transform="translate(488.34,508.50) scale(1,1.34) rotate(-90)" font-size="10.2" fill="#000" text-anchor="end">17</text>
<text transform="translate(502.25,508.50) scale(1,1.34) rotate(-90)" font-size="10.2" fill="#000" text-anchor="end">19</text>
<text transform="translate(516.16,508.50) scale(1,1.34) rotate(-90)" font-size="10.2" fill="#000" text-anchor="end">21</text>
<text transform="translate(530.07,508.50) scale(1,1.34) rotate(-90)" font-size="10.2" fill="#000" text-anchor="end">23</text>
<text transform="translate(543.98,508.50) scale(1,1.34) rotate(-90)" font-size="10.2" fill="#000" text-anchor="end">25</text>
<text transform="translate(557.88,508.50) scale(1,1.34) rotate(-90)" font-size="10.2" fill="#000" text-anchor="end">27</text>
<text transform="translate(571.79,508.50) scale(1,1.34) rotate(-90)" font-size="10.2" fill="#000" text-anchor="end">29</text>
<text transform="translate(585.71,508.50) scale(1,1.34) rotate(-90)" font-size="10.2" fill="#000" text-anchor="end">31</text>
<text transform="translate(599.62,508.50) scale(1,1.34) rotate(-90)" font-size="10.2" fill="#000" text-anchor="end">33</text>
<text transform="translate(613.52,508.50) scale(1,1.34) rotate(-90)" font-size="10.2" fill="#000" text-anchor="end">35</text>
<text transform="translate(627.44,508.50) scale(1,1.34) rotate(-90)" font-size="10.2" fill="#000" text-anchor="end">37</text>
<text transform="translate(641.35,508.50) scale(1,1.34) rotate(-90)" font-size="10.2" fill="#000" text-anchor="end">39</text>
<text transform="translate(655.25,508.50) scale(1,1.34) rotate(-90)" font-size="10.2" fill="#000" text-anchor="end">41</text>
<text transform="translate(669.17,508.50) scale(1,1.34) rotate(-90)" font-size="10.2" fill="#000" text-anchor="end">43</text>
<text transform="translate(683.08,508.50) scale(1,1.34) rotate(-90)" font-size="10.2" fill="#000" text-anchor="end">45</text>
<text transform="translate(363.60,80.40) scale(1,1.29) rotate(-90)" font-size="10.2" fill="#000" text-anchor="start">2108.297</text>
<text transform="translate(363.40,505.80) scale(1,1.34) rotate(-90)" font-size="10.2" fill="#000" text-anchor="start">90.290</text>
<rect x="361.6" y="460" width="3.4" height="46" fill="#fff"/>
<rect x="360" y="521" width="325" height="9" fill="#fff"/>
</svg>
</body></html>
